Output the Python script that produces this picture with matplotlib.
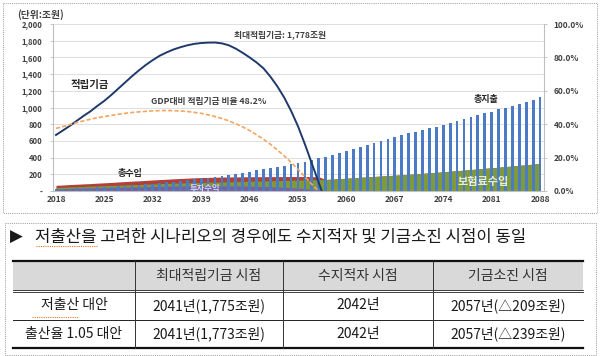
import matplotlib
matplotlib.use('Agg')
import matplotlib.pyplot as plt
from matplotlib.patches import Rectangle

plt.rcParams['font.family'] = ['Noto Sans CJK KR', 'DejaVu Sans']

# ---- data ----
years = list(range(2018, 2089))

fund = [671, 725, 780, 840, 900, 955, 1020, 1080, 1150, 1225,
        1300, 1375, 1445, 1510, 1568, 1620, 1660, 1695, 1722, 1745,
        1762, 1772, 1777, 1778, 1768, 1745, 1705, 1655, 1600, 1540,
        1470, 1370, 1255, 1120, 960, 775, 560, 330, 100, -130]
fund_years = list(range(2018, 2058))

gdp_ratio = [37.5, 38.6, 39.8, 41.0, 42.0, 43.0, 43.9, 44.6, 45.3, 45.9,
             46.5, 47.0, 47.4, 47.7, 48.0, 48.1, 48.2, 48.1, 47.9, 47.6,
             47.1, 46.5, 45.6, 44.6, 43.4, 42.0, 40.3, 38.4, 36.2, 33.7,
             31.0, 28.0, 24.6, 21.0, 17.2, 13.0, 8.5, 4.0, 0.0]
gdp_years = list(range(2018, 2057))

expenditure = [21, 24, 27, 30, 34, 38, 42, 47, 52, 57,
               63, 69, 75, 82, 89, 97, 105, 113, 122, 131,
               141, 151, 161, 172, 183, 195, 207, 220, 233, 246,
               260, 274, 288, 303, 318, 334, 351, 370, 390, 411,
               431, 452, 475, 500, 527, 553, 580, 602, 624, 648,
               670, 690, 708, 730, 751, 771, 791, 811, 833, 858,
               882, 907, 930, 952, 977, 1000, 1022, 1044, 1069, 1092,
               1122]

premium = [42, 45, 48, 51, 54, 57, 60, 63, 66, 69,
           72, 75, 78, 81, 84, 87, 90, 93, 96, 98,
           100, 102, 104, 106, 108, 110, 112, 114, 116, 118,
           120, 122, 124, 126, 128, 130, 132, 134, 136, 138,
           143, 148, 153, 158, 164, 169, 174, 179, 184, 189,
           194, 200, 205, 211, 217, 223, 230, 237, 243, 250,
           257, 264, 271, 278, 285, 292, 300, 307, 314, 322,
           330]

investment = [26, 28, 30, 32, 34, 36, 38, 40, 42, 44,
              46, 48, 50, 52, 54, 56, 58, 59, 60, 61,
              62, 63, 63, 63, 63, 62, 61, 60, 58, 56,
              54, 51, 48, 44, 39, 34, 28, 20, 10, 0] + [0] * 31

total_income = [68, 72, 77, 81, 85, 89, 94, 98, 103, 108,
                113, 118, 122, 127, 132, 137, 141, 146, 150, 154,
                158, 161, 163, 165, 167, 168, 169, 170, 171, 171,
                172, 172, 172, 173, 173, 173, 173, 172, 170, 138,
                143, 148, 153, 158, 164, 169, 174, 179, 184, 189,
                194, 200, 205, 211, 217, 223, 230, 237, 243, 250,
                257, 264, 271, 278, 285, 292, 300, 307, 314, 322,
                330]

x_ticks = list(range(2018, 2089, 7))
y_ticks = list(range(0, 2001, 200))
pct_ticks = list(range(0, 101, 20))

banner = '저출산을 고려한 시나리오의 경우에도 수지적자 및 기금소진 시점이 동일'
header = ['', '최대적립기금 시점', '수지적자 시점', '기금소진 시점']
rows = [['저출산 대안', '2041년(1,775조원)', '2042년', '2057년(△209조원)'],
        ['출산율 1.05 대안', '2041년(1,773조원)', '2042년', '2057년(△239조원)']]

# ---- figure ----
W, H = 600, 356
fig = plt.figure(figsize=(W / 100, H / 100), dpi=100)

bg = fig.add_axes([0, 0, 1, 1])
bg.set_xlim(0, W)
bg.set_ylim(H, 0)
bg.axis('off')

dot = (0, (1, 1.2))
bg.add_patch(Rectangle((2.5, 3), 594, 210, fill=False, ls=dot, lw=0.7, ec='#9a9a9a'))
bg.add_patch(Rectangle((5, 223), 591, 132, fill=False, ls=dot, lw=0.7, ec='#9a9a9a'))
bg.text(17, 15, '(단위:조원)', fontsize=7, fontweight='bold', color='#404040', va='center')

# chart
ax = fig.add_axes([52.5 / W, 1 - 191 / H, 491 / W, 167 / H])
ax.fill_between(years, total_income, color='#b0403a', lw=0, zorder=1)
ax.fill_between(years, premium, color='#7f9a3a', lw=0, zorder=1.1)
ax.fill_between(years, investment, color='#7b5f9e', lw=0, zorder=1.2)
ax.bar(years, expenditure, width=0.4, color='#4a7bc4', zorder=2)
ax.plot(fund_years, fund, color='#1f3a6a', lw=1.4, zorder=3)

ax.set_xlim(2017.5, 2088.5)
ax.set_ylim(0, 2000)
ax.set_yticks(y_ticks)
ax.set_yticklabels(['-' if v == 0 else f'{v:,}' for v in y_ticks],
                   fontsize=5.5, fontweight='bold', color='#404040')
ax.set_xticks(x_ticks)
ax.set_xticklabels([str(v) for v in x_ticks], fontsize=6, fontweight='bold', color='#404040')
ax.tick_params(axis='y', length=2.2, width=0.6, color='#bfbfbf', pad=5)
ax.tick_params(axis='x', length=0, pad=3)
ax.yaxis.grid(True, color='#d9d9d9', lw=0.6)
ax.set_axisbelow(True)
for s in ['top', 'right']:
    ax.spines[s].set_visible(False)
for s in ['left', 'bottom']:
    ax.spines[s].set_color('#bfbfbf')
    ax.spines[s].set_linewidth(0.8)

ax2 = ax.twinx()
ax2.plot(gdp_years, gdp_ratio, color='#f4a460', lw=1.2, dashes=(2.5, 1.3))
ax2.set_ylim(0, 100)
ax2.set_yticks(pct_ticks)
ax2.set_yticklabels([f'{v:.1f}%' for v in pct_ticks], fontsize=6, fontweight='bold', color='#404040')
ax2.tick_params(axis='y', length=2.2, width=0.6, color='#bfbfbf', pad=5)
for s in ['top', 'left', 'bottom']:
    ax2.spines[s].set_visible(False)
ax2.spines['right'].set_color('#bfbfbf')
ax2.spines['right'].set_linewidth(0.8)

lab = dict(fontweight='bold', color='#262626', ha='center', va='center')
ax.text(2022.85, 1270, '적립기금', fontsize=7.5, **lab)
ax.text(2050.4, 1869, '최대적립기금: 1,778조원', fontsize=6.3, fontweight='bold',
        color='#404040', ha='center', va='center')
ax.text(2040.1, 1066, 'GDP대비 적립기금 비율 48.2%', fontsize=6.3, fontweight='bold',
        color='#404040', ha='center', va='center')
ax.text(2028.7, 204, '총수입', fontsize=6.5, **lab)
ax.text(2080.2, 1090, '총지출', fontsize=6.5, **lab)
ax.text(2039.6, 30, '투자수익', fontsize=6, fontweight='bold', color='#d8d0ec', ha='center', va='center')
ax.text(2079.8, 108, '보험료수입', fontsize=8, fontweight='bold', color='#e8eed8', ha='center', va='center')

# banner
bg.text(10, 237, '▶', fontsize=12, color='#1a1a1a', va='center', family=['DejaVu Sans'])
bg.text(35, 237, banner, fontsize=12, color='#1a1a1a', va='center')
bg.plot([36, 97], [246, 246], color='#e07b28', lw=0.8, ls=(0, (1, 1)))

# table
col_x = [13, 135, 283, 433, 583]
row_y = [261, 291, 320, 348]
bg.add_patch(Rectangle((col_x[0], row_y[0]), col_x[-1] - col_x[0], row_y[1] - row_y[0],
                       color='#d9d9d9', lw=0))
bg.plot([col_x[0], col_x[-1]], [row_y[0], row_y[0]], color='#111111', lw=1.6)
bg.plot([col_x[0], col_x[-1]], [row_y[1] - 1, row_y[1] - 1], color='#222222', lw=0.6)
bg.plot([col_x[0], col_x[-1]], [row_y[1] + 1, row_y[1] + 1], color='#222222', lw=0.6)
bg.plot([col_x[0], col_x[-1]], [row_y[2], row_y[2]], color='#222222', lw=0.7)
bg.plot([col_x[0], col_x[-1]], [row_y[3], row_y[3]], color='#111111', lw=1.6)
for cx in col_x[1:-1]:
    bg.plot([cx, cx], [row_y[0], row_y[3]], color='#333333', lw=0.7)

centers = [(col_x[i] + col_x[i + 1]) / 2 for i in range(4)]
for i, t in enumerate(header):
    bg.text(centers[i], (row_y[0] + row_y[1]) / 2, t, fontsize=10, color='#333333',
            ha='center', va='center')
for r, row in enumerate(rows):
    yc = (row_y[r + 1] + row_y[r + 2]) / 2
    for i, t in enumerate(row):
        bg.text(centers[i], yc, t, fontsize=10, color='#1a1a1a', ha='center', va='center')
bg.plot([32, 78], [316.5, 316.5], color='#e07b28', lw=0.8, ls=(0, (1, 1)))

fig.savefig('out.png', dpi=100)
